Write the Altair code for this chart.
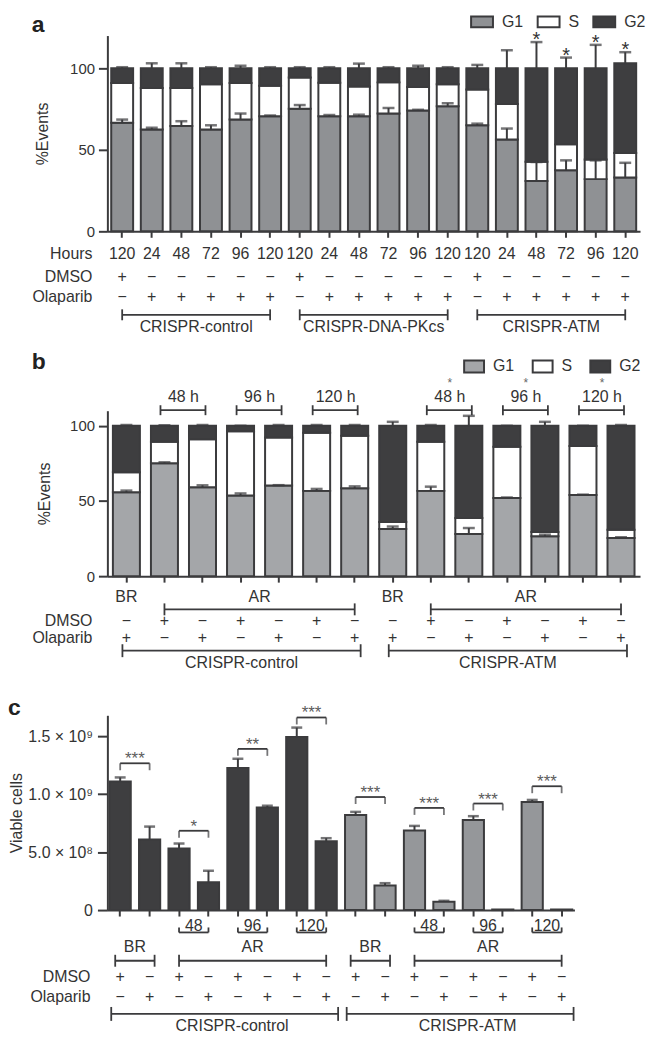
import altair as alt
import pandas as pd

FONT = "Liberation Sans"
TXT = "#333333"
EDGE = "#3b3b3d"
DARK = "#3e3e40"
GREY_A = "#8f9194"
GREY_B = "#a4a6a9"
GREY_C = "#95979a"
STAR_C = "#5c5c5c"
PLUS, MINUS = "+", "\u2212"

# ---------------- panel a data ----------------
a_hours = ["120", "24", "48", "72", "96", "120", "120", "24", "48", "72", "96", "120",
           "120", "24", "48", "72", "96", "120"]
a_dmso = [PLUS, MINUS, MINUS, MINUS, MINUS, MINUS, PLUS, MINUS, MINUS, MINUS, MINUS, MINUS,
          PLUS, MINUS, MINUS, MINUS, MINUS, MINUS]
a_olaparib = [MINUS, PLUS, PLUS, PLUS, PLUS, PLUS, MINUS, PLUS, PLUS, PLUS, PLUS, PLUS,
              MINUS, PLUS, PLUS, PLUS, PLUS, PLUS]
a_groups = ["CRISPR-control", "CRISPR-DNA-PKcs", "CRISPR-ATM"]
a_g1 = [66.5, 62.4, 64.5, 62.4, 68.5, 70.5, 75.2, 70.5, 70.5, 72.2, 74.0, 76.6,
        65.0, 56.3, 30.9, 37.4, 32.0, 33.0]
a_g1_err = [68.5, 63.5, 67.5, 65.0, 72.2, 71.0, 77.4, 71.3, 71.5, 75.6, 74.5, 78.5,
            66.0, 63.0, 42.5, 43.5, 43.5, 42.0]
a_s = [24.4, 25.4, 23.3, 27.8, 22.4, 18.7, 19.1, 20.5, 18.2, 19.1, 14.4, 13.6,
       22.0, 21.7, 11.8, 15.9, 12.0, 15.0]
a_total = [100, 100, 100, 100, 100, 100, 100, 100, 100, 100, 100, 100,
           100, 100, 100, 100, 100, 103]
a_total_err = [100.6, 103.0, 103.0, 100.6, 101.5, 100.6, 100.6, 100.6, 102.8, 100.6, 101.5, 100.6,
               102.0, 111.0, 116.0, 106.5, 114.3, 109.8]
a_star = ["", "", "", "", "", "", "", "", "", "", "", "", "", "", "*", "*", "*", "*"]

# ---------------- panel b data ----------------
b_phase = ["BR", "AR", "BR", "AR"]
b_dmso = [MINUS, PLUS, MINUS, PLUS, MINUS, PLUS, MINUS, MINUS, PLUS, MINUS, PLUS, MINUS, PLUS, MINUS]
b_olaparib = [PLUS, MINUS, PLUS, MINUS, PLUS, MINUS, PLUS, PLUS, MINUS, PLUS, MINUS, PLUS, MINUS, PLUS]
b_groups = ["CRISPR-control", "CRISPR-ATM"]
b_g1 = [55.8, 75.0, 59.1, 53.6, 60.3, 56.7, 58.5, 31.3, 56.7, 28.0, 51.9, 26.5, 54.0, 25.4]
b_g1_err = [56.9, 75.7, 60.4, 55.0, 60.5, 58.0, 59.7, 33.0, 59.5, 32.0, 52.3, 27.6, 54.2, 25.8]
b_s = [13.3, 14.4, 32.0, 42.8, 31.9, 38.6, 34.8, 4.7, 32.7, 10.6, 34.1, 2.8, 32.5, 5.5]
b_total = [100, 100, 100, 100, 100, 100, 100, 100, 100, 100, 100, 100, 100, 100]
b_total_err = [100.5, 100.3, 100.5, 100.0, 100.5, 100.5, 100.5, 102.6, 100.5, 106.6, 100.0, 102.6, 100.0, 100.5]
b_time_labels = ["48 h", "96 h", "120 h", "48 h", "96 h", "120 h"]
b_time_stars = ["", "", "", "*", "*", "*"]

# ---------------- panel c data ----------------
c_genotype = ["control"] * 8 + ["ATM"] * 8
c_dmso = [PLUS, MINUS] * 8
c_olaparib = [MINUS, PLUS] * 8
c_groups = ["CRISPR-control", "CRISPR-ATM"]
c_time_labels = ["48", "96", "120", "48", "96", "120"]
c_viable = [1.108e9, 0.608e9, 0.531e9, 0.240e9, 1.226e9, 0.885e9, 1.492e9, 0.593e9,
            0.819e9, 0.212e9, 0.687e9, 0.071e9, 0.777e9, 0.005e9, 0.932e9, 0.005e9]
c_err = [1.144e9, 0.720e9, 0.574e9, 0.339e9, 1.305e9, 0.900e9, 1.574e9, 0.620e9,
         0.847e9, 0.232e9, 0.726e9, 0.080e9, 0.810e9, 0.005e9, 0.950e9, 0.005e9]
c_sig = ["***", "*", "**", "***", "***", "***", "***", "***"]
c_sig_height = [1.266e9, 0.684e9, 1.390e9, 1.661e9, 0.975e9, 0.881e9, 0.919e9, 1.068e9]
c_tick_values = [0, 5e8, 1e9, 1.5e9]
c_tick_labels = ["0", "5.0 \u00d7 10\u2078", "1.0 \u00d7 10\u2079", "1.5 \u00d7 10\u2079"]

# ---------------- layout ----------------
W_AB = 536
W_C = 470
H_A = 197
H_B = 207
B_TOP = 40.5
H_C = 196
SPACING = 140
ANCHOR = -52
PAD_TOP = -27.5

XAX = alt.Axis(labels=False, title=None, tickSize=6, tickWidth=2, domainWidth=2, grid=False)


def X(field, xs):
    return alt.X(f"{field}:N", scale=xs, axis=XAX)


def seg_frame(ids, g1, s, total):
    rows = []
    for k, a, b, t in zip(ids, g1, s, total):
        rows.append({"id": k, "phase": "G1", "y0": 0.0, "y1": a})
        rows.append({"id": k, "phase": "S", "y0": a, "y1": a + b})
        rows.append({"id": k, "phase": "G2", "y0": a + b, "y1": t})
    return pd.DataFrame(rows)


def err_frame(ids, g1, g1_err, total, total_err):
    rows = []
    for k, a, ae, t, te in zip(ids, g1, g1_err, total, total_err):
        rows.append({"id": k, "base": a, "top": ae})
        rows.append({"id": k, "base": t, "top": te})
    return pd.DataFrame(rows)


def free_text(t, x, y, **mk):
    return alt.Chart(pd.DataFrame({"t": [t]})).mark_text(**mk).encode(
        x=alt.value(x), y=alt.value(y), text="t:N")


def bracket(df, xs, y, lo, hi, first="first", last="last", off1=0, off2=0, sw=1.8):
    line = alt.Chart(df).mark_rule(color=EDGE, strokeWidth=sw, xOffset=off1, x2Offset=off2).encode(
        x=X(first, xs), x2=f"{last}:N", y=alt.value(y))
    t1 = alt.Chart(df).mark_rule(color=EDGE, strokeWidth=sw, xOffset=off1).encode(
        x=X(first, xs), y=alt.value(lo), y2=alt.value(hi))
    t2 = alt.Chart(df).mark_rule(color=EDGE, strokeWidth=sw, xOffset=off2).encode(
        x=X(last, xs), y=alt.value(lo), y2=alt.value(hi))
    return [line, t1, t2]


def row_text(df, field, xs, y, **mk):
    return alt.Chart(df).mark_text(baseline="middle", **mk).encode(
        x=X("id", xs), y=alt.value(y), text=f"{field}:N")


def cycle_legend(x, y, path, size, pad):
    return alt.Legend(orient="none", legendX=x, legendY=y, direction="horizontal", title=None,
                      symbolType=path, symbolSize=size, symbolStrokeColor=EDGE,
                      symbolStrokeWidth=2, symbolOpacity=1, labelFontSize=16, labelFont=FONT,
                      labelColor=TXT, labelOffset=8, columnPadding=pad, padding=0,
                      gridAlign="each")


# ================= panel a =================
ids_a = [f"a{i:02d}" for i in range(18)]
step_a = W_AB / 18
xs_a = alt.Scale(domain=ids_a, paddingInner=0.26, paddingOuter=0.13)
ys_a = alt.Scale(domain=[0, 120], nice=False)
yax_a = alt.Axis(values=[0, 50, 100], title="%Events", titleX=-65, titleY=H_A / 2,
                 titleAngle=270, titleBaseline="middle", titleAlign="center",
                 titleFontSize=16, titleFontWeight="normal", labelFontSize=15,
                 tickSize=9, tickWidth=2, domainWidth=2, labelPadding=4, grid=False)

seg_a = seg_frame(ids_a, a_g1, a_s, a_total)
err_a = err_frame(ids_a, a_g1, a_g1_err, a_total, a_total_err)
star_a = pd.DataFrame({"id": ids_a, "top": a_total_err, "star": a_star})
star_a = star_a[star_a["star"] != ""]
rows_a = pd.DataFrame({"id": ids_a, "hours": a_hours, "dmso": a_dmso, "ola": a_olaparib})
grp_a = pd.DataFrame({"name": a_groups,
                      "first": [ids_a[0], ids_a[6], ids_a[12]],
                      "last": [ids_a[5], ids_a[11], ids_a[17]],
                      "mid": [ids_a[3], ids_a[9], ids_a[15]]})

bars_a = alt.Chart(seg_a).mark_bar(stroke=EDGE, strokeWidth=2, strokeJoin="miter").encode(
    x=X("id", xs_a),
    y=alt.Y("y0:Q", scale=ys_a, axis=yax_a),
    y2="y1:Q",
    fill=alt.Fill("phase:N",
                  scale=alt.Scale(domain=["G1", "S", "G2"], range=[GREY_A, "#ffffff", DARK]),
                  legend=cycle_legend(365, -26, "M-1,-0.5H1V0.5H-1Z", 484, 10)))
rule_a = alt.Chart(err_a).mark_rule(color=EDGE, strokeWidth=2).encode(
    x=X("id", xs_a), y=alt.Y("base:Q", scale=ys_a, axis=yax_a), y2="top:Q")
cap_a = alt.Chart(err_a).mark_tick(color=EDGE, thickness=2.5, size=12).encode(
    x=X("id", xs_a), y=alt.Y("top:Q", scale=ys_a, axis=yax_a))
stars_a = alt.Chart(star_a).mark_text(fontSize=20, dy=4, baseline="alphabetic", color=TXT).encode(
    x=X("id", xs_a), y=alt.Y("top:Q", scale=ys_a, axis=yax_a), text="star:N")
# invisible anchor fixing the top edge of the whole figure
anchor = alt.Chart(pd.DataFrame({"t": [0]})).mark_rule(opacity=0, strokeWidth=1).encode(
    x=alt.value(0), x2=alt.value(10), y=alt.value(ANCHOR))

layers_a = [bars_a, rule_a, cap_a, stars_a, anchor,
            row_text(rows_a, "hours", xs_a, H_A + 22.6, fontSize=16),
            row_text(rows_a, "dmso", xs_a, H_A + 46, fontSize=16),
            row_text(rows_a, "ola", xs_a, H_A + 66, fontSize=16),
            free_text("Hours", -15, H_A + 22.6, align="right", baseline="middle", fontSize=16),
            free_text("DMSO", -15, H_A + 46, align="right", baseline="middle", fontSize=16),
            free_text("Olaparib", -15, H_A + 66, align="right", baseline="middle", fontSize=16),
            free_text("a", -76, -11, align="left", baseline="middle", fontSize=23,
                      fontWeight="bold", color="#222222")]
layers_a += bracket(grp_a, xs_a, H_A + 84, H_A + 78.5, H_A + 89.5)
layers_a.append(alt.Chart(grp_a).mark_text(baseline="middle", fontSize=16, dx=-step_a / 2).encode(
    x=X("mid", xs_a), y=alt.value(H_A + 96), text="name:N"))
panel_a = alt.layer(*layers_a).properties(width=W_AB, height=H_A)

# ================= panel b =================
ids_b = [f"b{i:02d}" for i in range(14)]
step_b = W_AB / 14
xs_b = alt.Scale(domain=ids_b, paddingInner=0.29, paddingOuter=0.145)
ys_b = alt.Scale(domain=[0, 110], range=[H_B, B_TOP], nice=False)
yax_b = alt.Axis(values=[0, 50, 100], title="%Events", titleX=-63, titleY=(H_B + B_TOP) / 2,
                 titleAngle=270, titleBaseline="middle", titleAlign="center",
                 titleFontSize=16, titleFontWeight="normal", labelFontSize=15,
                 tickSize=9, tickWidth=2, domainWidth=2, labelPadding=4, grid=False)

seg_b = seg_frame(ids_b, b_g1, b_s, b_total)
err_b = err_frame(ids_b, b_g1, b_g1_err, b_total, b_total_err)
rows_b = pd.DataFrame({"id": ids_b, "dmso": b_dmso, "ola": b_olaparib})
time_b = pd.DataFrame({"label": b_time_labels, "star": b_time_stars,
                       "first": [ids_b[i] for i in (1, 3, 5, 8, 10, 12)],
                       "last": [ids_b[i] for i in (2, 4, 6, 9, 11, 13)]})
star_b = time_b[time_b["star"] != ""]
phase_b = pd.DataFrame({"label": b_phase,
                        "at": [ids_b[0], ids_b[4], ids_b[7], ids_b[11]],
                        "dx": [0, -1, 0, -1]})
ar_b = pd.DataFrame({"first": [ids_b[1], ids_b[8]], "last": [ids_b[6], ids_b[13]]})
grp_b = pd.DataFrame({"name": b_groups, "first": [ids_b[0], ids_b[7]],
                      "last": [ids_b[6], ids_b[13]], "mid": [ids_b[3], ids_b[10]]})

bars_b = alt.Chart(seg_b).mark_bar(stroke=EDGE, strokeWidth=2, strokeJoin="miter").encode(
    x=X("id", xs_b),
    y=alt.Y("y0:Q", scale=ys_b, axis=yax_b),
    y2="y1:Q",
    fill=alt.Fill("phase:N",
                  scale=alt.Scale(domain=["G1", "S", "G2"], range=[GREY_B, "#ffffff", DARK]),
                  legend=cycle_legend(358, -15, "M-1,-0.6H1V0.6H-1Z", 400, 14)))
rule_b = alt.Chart(err_b).mark_rule(color=EDGE, strokeWidth=2).encode(
    x=X("id", xs_b), y=alt.Y("base:Q", scale=ys_b, axis=yax_b), y2="top:Q")
cap_b = alt.Chart(err_b).mark_tick(color=EDGE, thickness=2.5, size=12).encode(
    x=X("id", xs_b), y=alt.Y("top:Q", scale=ys_b, axis=yax_b))

BB = H_B
layers_b = [bars_b, rule_b, cap_b,
            row_text(rows_b, "dmso", xs_b, BB + 45, fontSize=16),
            row_text(rows_b, "ola", xs_b, BB + 62, fontSize=16),
            free_text("DMSO", -15, BB + 45, align="right", baseline="middle", fontSize=16),
            free_text("Olaparib", -15, BB + 62, align="right", baseline="middle", fontSize=16),
            free_text("b", -76, B_TOP - 49, align="left", baseline="middle", fontSize=23,
                      fontWeight="bold", color="#222222")]
# time brackets above bars
layers_b += bracket(time_b, xs_b, B_TOP - 0.5, B_TOP - 5.5, B_TOP + 4.5, off1=-4, off2=3)
layers_b.append(alt.Chart(time_b).mark_text(baseline="middle", fontSize=16, dx=-step_b / 2).encode(
    x=X("last", xs_b), y=alt.value(B_TOP - 13.4), text="label:N"))
layers_b.append(alt.Chart(star_b).mark_text(baseline="alphabetic", fontSize=12, color="#666666",
                                            dx=-step_b / 2).encode(
    x=X("last", xs_b), y=alt.value(B_TOP - 24), text="star:N"))
# BR / AR
layers_b.append(alt.Chart(phase_b[phase_b["dx"] == 0]).mark_text(baseline="middle", fontSize=16).encode(
    x=X("at", xs_b), y=alt.value(BB + 21), text="label:N"))
layers_b.append(alt.Chart(phase_b[phase_b["dx"] != 0]).mark_text(baseline="middle", fontSize=16,
                                                                 dx=-step_b / 2).encode(
    x=X("at", xs_b), y=alt.value(BB + 21), text="label:N"))
layers_b += bracket(ar_b, xs_b, BB + 33.4, BB + 27.4, BB + 39.4)
layers_b += bracket(grp_b, xs_b, BB + 75, BB + 68.5, BB + 81.5, off1=-4, off2=6)
layers_b.append(alt.Chart(grp_b).mark_text(baseline="middle", fontSize=16, dx=1).encode(
    x=X("mid", xs_b), y=alt.value(BB + 87.5), text="name:N"))
panel_b = alt.layer(*layers_b).properties(width=W_AB, height=H_B)

# ================= panel c =================
ids_c = [f"c{i:02d}" for i in range(16)]
xs_c = alt.Scale(domain=ids_c, paddingInner=0.28, paddingOuter=0.075)
step_c = W_C / (16 - 0.28 + 2 * 0.075)
ys_c = alt.Scale(domain=[0, 1.68e9], nice=False)
label_expr = " : ".join(
    f"datum.value == {v} ? '{t}'" for v, t in zip(c_tick_values, c_tick_labels)) + " : ''"
yax_c = alt.Axis(values=c_tick_values, labelExpr=label_expr, title="Viable cells",
                 titleX=-91, titleY=H_C / 2, titleAngle=270, titleBaseline="middle",
                 titleAlign="center", titleFontSize=16, titleFontWeight="normal",
                 labelFontSize=16, tickSize=10, tickWidth=2, domainWidth=2, labelPadding=5,
                 grid=False)

bar_c = pd.DataFrame({"id": ids_c, "v": c_viable, "err": c_err, "grp": c_genotype,
                      "dmso": c_dmso, "ola": c_olaparib})
err_c = bar_c[bar_c["err"] > bar_c["v"]]
sig_c = pd.DataFrame({"first": ids_c[0::2], "last": ids_c[1::2], "h": c_sig_height, "s": c_sig})
time_c = pd.DataFrame({"label": c_time_labels,
                       "first": [ids_c[i] for i in (2, 4, 6, 10, 12, 14)],
                       "last": [ids_c[i] for i in (3, 5, 7, 11, 13, 15)]})
br_c = pd.DataFrame({"first": [ids_c[0], ids_c[8]], "last": [ids_c[1], ids_c[9]]})
ar_c = pd.DataFrame({"first": [ids_c[2], ids_c[10]], "last": [ids_c[7], ids_c[15]]})
phase_c = pd.DataFrame({"label": ["BR", "AR", "BR", "AR"],
                        "at": [ids_c[1], ids_c[5], ids_c[9], ids_c[13]]})
grp_c = pd.DataFrame({"name": c_groups, "first": [ids_c[0], ids_c[8]],
                      "last": [ids_c[7], ids_c[15]], "mid": [ids_c[4], ids_c[12]]})

bars_c = alt.Chart(bar_c).mark_bar(stroke=EDGE, strokeWidth=2, strokeJoin="miter").encode(
    x=X("id", xs_c),
    y=alt.Y("v:Q", scale=ys_c, axis=yax_c),
    fill=alt.Fill("grp:N", scale=alt.Scale(domain=["control", "ATM"], range=[DARK, GREY_C]),
                  legend=None))
rule_c = alt.Chart(err_c).mark_rule(color=EDGE, strokeWidth=2).encode(
    x=X("id", xs_c), y=alt.Y("v:Q", scale=ys_c, axis=yax_c), y2="err:Q")
cap_c = alt.Chart(err_c).mark_tick(color=EDGE, thickness=2.5, size=11).encode(
    x=X("id", xs_c), y=alt.Y("err:Q", scale=ys_c, axis=yax_c))
sig_line = alt.Chart(sig_c).mark_rule(color=EDGE, strokeWidth=1.8).encode(
    x=X("first", xs_c), x2="last:N", y=alt.Y("h:Q", scale=ys_c, axis=yax_c))
sig_t1 = alt.Chart(sig_c).mark_tick(color=EDGE, orient="vertical", size=7, thickness=1.8,
                                    yOffset=3.5).encode(
    x=X("first", xs_c), y=alt.Y("h:Q", scale=ys_c, axis=yax_c))
sig_t2 = alt.Chart(sig_c).mark_tick(color=EDGE, orient="vertical", size=7, thickness=1.8,
                                    yOffset=3.5).encode(
    x=X("last", xs_c), y=alt.Y("h:Q", scale=ys_c, axis=yax_c))
sig_txt = alt.Chart(sig_c).mark_text(fontSize=17, color=STAR_C, baseline="alphabetic", dy=1,
                                     dx=-step_c / 2).encode(
    x=X("last", xs_c), y=alt.Y("h:Q", scale=ys_c, axis=yax_c), text="s:N")

CB = H_C
layers_c = [bars_c, rule_c, cap_c, sig_line, sig_t1, sig_t2, sig_txt,
            alt.Chart(time_c).mark_text(baseline="middle", fontSize=16, dx=-step_c / 2).encode(
                x=X("last", xs_c), y=alt.value(CB + 16), text="label:N")]
layers_c += bracket(time_c, xs_c, CB + 22.5, CB + 17.5, CB + 22.5)
layers_c.append(alt.Chart(phase_c).mark_text(baseline="middle", fontSize=16, dx=-step_c / 2).encode(
    x=X("at", xs_c), y=alt.value(CB + 37), text="label:N"))
layers_c += bracket(br_c, xs_c, CB + 51, CB + 45, CB + 57, off1=-5, off2=5)
layers_c += bracket(ar_c, xs_c, CB + 51, CB + 45, CB + 57)
layers_c += [row_text(bar_c, "dmso", xs_c, CB + 67.5, fontSize=16),
             row_text(bar_c, "ola", xs_c, CB + 88, fontSize=16),
             free_text("DMSO", -17, CB + 67.5, align="right", baseline="middle", fontSize=16),
             free_text("Olaparib", -17, CB + 88, align="right", baseline="middle", fontSize=16),
             free_text("c", -100, -7.3, align="left", baseline="middle", fontSize=23,
                       fontWeight="bold", color="#222222")]
layers_c += bracket(grp_c, xs_c, CB + 104.5, CB + 97.5, CB + 111.5, off1=-9, off2=12)
layers_c.append(alt.Chart(grp_c).mark_text(baseline="middle", fontSize=16, dx=-step_c / 2 + 9).encode(
    x=X("mid", xs_c), y=alt.value(CB + 117), text="name:N"))
panel_c = alt.layer(*layers_c).properties(width=W_C, height=H_C)

chart = alt.vconcat(panel_a, panel_b, panel_c, spacing=SPACING, bounds="flush").resolve_scale(
    fill="independent").resolve_legend(fill="independent").properties(
    padding={"top": PAD_TOP, "left": 0, "right": 0, "bottom": 0},
    background="white").configure_view(stroke=None).configure_axis(
    labelFont=FONT, titleFont=FONT, labelColor=TXT, titleColor=TXT,
    domainColor=EDGE, tickColor=EDGE).configure_text(font=FONT, color=TXT, fontSize=16)

chart.save("out.html", embed_options={"renderer": "svg", "actions": False})
